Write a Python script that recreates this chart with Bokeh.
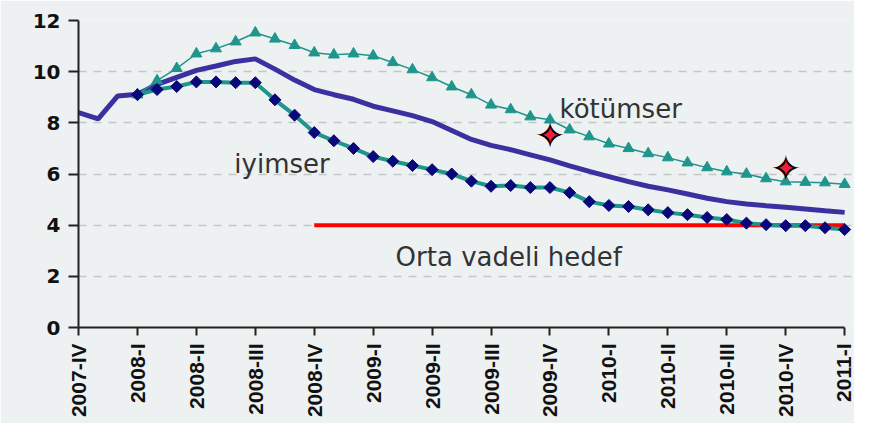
import math
from bokeh.plotting import figure
from bokeh.models import FixedTicker, Range1d
from bokeh.core.properties import value
from bokeh.embed import file_html
from bokeh.resources import INLINE

# ---- data -------------------------------------------------------------
quarter_labels = ["2007-IV", "2008-I", "2008-II", "2008-III", "2008-IV",
                  "2009-I", "2009-II", "2009-III", "2009-IV",
                  "2010-I", "2010-II", "2010-III", "2010-IV", "2011-I"]
quarter_pos = [0, 3, 6, 9, 12, 15, 18, 21, 24, 27, 30, 33, 36, 39]

months = list(range(40))
central = [8.40, 8.15, 9.05, 9.12, 9.50, 9.78, 10.05, 10.22, 10.40, 10.50,
           10.10, 9.67, 9.30, 9.10, 8.92, 8.65, 8.47, 8.28, 8.05, 7.70,
           7.35, 7.12, 6.95, 6.75, 6.55, 6.32, 6.10, 5.90, 5.70, 5.52,
           5.38, 5.22, 5.05, 4.92, 4.83, 4.76, 4.70, 4.63, 4.56, 4.50]

scen_months = list(range(3, 40))
iyimser = [9.10, 9.30, 9.42, 9.60, 9.60, 9.57, 9.57, 8.90, 8.30, 7.62,
           7.30, 7.00, 6.68, 6.50, 6.33, 6.17, 6.00, 5.72, 5.52, 5.55,
           5.47, 5.47, 5.27, 4.92, 4.77, 4.73, 4.60, 4.49, 4.41, 4.30,
           4.22, 4.08, 4.02, 3.98, 3.98, 3.90, 3.83]
kotumser = [9.10, 9.65, 10.13, 10.70, 10.90, 11.17, 11.52, 11.28, 11.03, 10.74,
            10.66, 10.70, 10.62, 10.36, 10.08, 9.77, 9.41, 9.10, 8.70, 8.52,
            8.24, 8.12, 7.73, 7.46, 7.18, 7.00, 6.80, 6.64, 6.44, 6.25,
            6.09, 6.00, 5.82, 5.70, 5.68, 5.66, 5.60]

target_months = [12, 39]
target_values = [4.0, 4.0]

actual_months = [24, 36]
actual_values = [7.50, 6.22]

y_ticks = [0, 2, 4, 6, 8, 10, 12]

labels_text = ["kötümser", "iyimser", "Orta vadeli hedef"]
labels_x = [27.6, 10.36, 21.9]
labels_y = [8.54, 6.39, 2.75]

# ---- figure -----------------------------------------------------------
BG = "#edf1f1"
p = figure(frame_width=774, frame_height=307,
           min_border_left=78, min_border_right=2,
           min_border_top=20, min_border_bottom=96,
           x_range=Range1d(0, 39.4), y_range=Range1d(0, 12),
           output_backend="svg", toolbar_location=None,
           background_fill_color=BG, border_fill_color=BG)
p.outline_line_color = None

# grid
p.xgrid.grid_line_color = None
p.ygrid.ticker = FixedTicker(ticks=y_ticks)
p.ygrid.grid_line_color = "#c4c7c7"
p.ygrid.grid_line_width = 1.5
p.ygrid.grid_line_dash = "8 7"

# axes
for ax in (p.xaxis[0], p.yaxis[0]):
    ax.axis_line_color = "#222222"
    ax.axis_line_width = 2
    ax.major_tick_line_color = "#222222"
    ax.major_tick_line_width = 2
    ax.major_tick_in = 0
    ax.minor_tick_line_color = None
    ax.major_label_text_color = "#111111"
    ax.major_label_text_font_style = "bold"

p.yaxis.ticker = FixedTicker(ticks=y_ticks)
p.yaxis.major_tick_out = 10
p.yaxis.major_label_standoff = 8
p.yaxis.major_label_text_font = "DejaVu Sans"
p.yaxis.major_label_text_font_size = "20px"

p.xaxis.ticker = FixedTicker(ticks=quarter_pos)
p.xaxis.major_label_overrides = {q: l for q, l in zip(quarter_pos, quarter_labels)}
p.xaxis.major_label_orientation = math.pi / 2
p.xaxis.major_tick_out = 8
p.xaxis.major_label_standoff = 8
p.xaxis.major_label_text_font = "Liberation Sans"
p.xaxis.major_label_text_font_size = "21px"
p.xaxis.bounds = (0, 39)

# ---- series -----------------------------------------------------------
TEAL = "#1f958c"
p.line(target_months, target_values, line_color="#ff0000", line_width=4)
p.line(months, central, line_color="#3a30a0", line_width=5)
p.line(scen_months, iyimser, line_color=TEAL, line_width=4)
p.line(scen_months, kotumser, line_color=TEAL, line_width=1.5)
p.scatter(scen_months, kotumser, marker="triangle", size=11,
          fill_color=TEAL, line_color=TEAL)
p.scatter(scen_months, iyimser, marker="square", size=8.5, angle=math.pi / 4,
          fill_color="#08087a", line_color="#08087a")

# four-pointed stars (actual values): red fill + black outline glyph
p.text(actual_months, actual_values, text=["\u2726"] * 2,
       text_font=value("DejaVu Sans"), text_font_size="36px",
       text_color="#f0203c", text_align="center", text_baseline="middle")
p.text(actual_months, actual_values, text=["\u2727"] * 2,
       text_font=value("DejaVu Sans"), text_font_size="36px",
       text_color="#000000", text_align="center", text_baseline="middle")

# labels
p.text(labels_x, labels_y, text=labels_text,
       text_font=value("DejaVu Sans"), text_font_size="26px",
       text_color="#333333", text_align="center", text_baseline="alphabetic")

open("out.html", "w").write(file_html(p, INLINE))
